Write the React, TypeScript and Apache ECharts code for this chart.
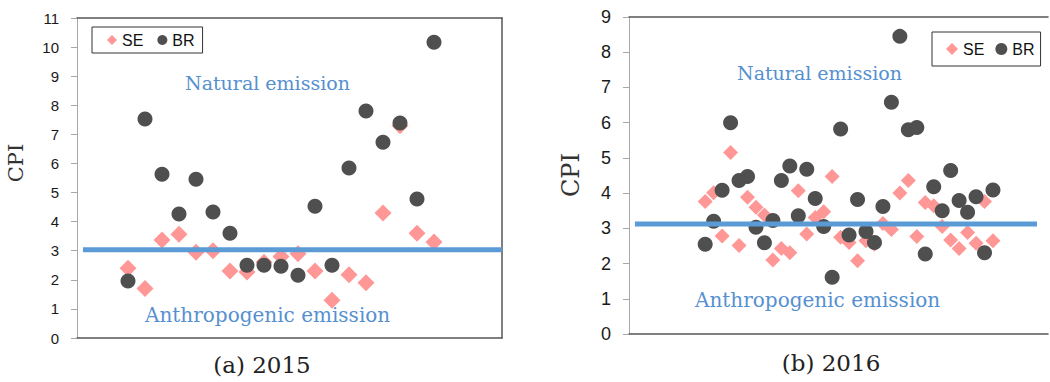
import React, { useEffect, useRef } from "react";
import * as echarts from "echarts";

// ---- 2015 ----
const samples2015 = [1, 2, 3, 4, 5, 6, 7, 8, 9, 10, 11, 12, 13, 14, 15, 16, 17, 18, 19];
const se2015 = [2.4, 1.7, 3.37, 3.57, 2.95, 3.0, 2.3, 2.27, 2.6, 2.8, 2.9, 2.3, 1.3, 2.17, 1.9, 4.3, 7.3, 3.6, 3.3];
const br2015 = [1.96, 7.53, 5.63, 4.26, 5.46, 4.33, 3.6, 2.5, 2.5, 2.47, 2.16, 4.53, 2.5, 5.84, 7.8, 6.73, 7.39, 4.78, 10.17];
const threshold2015 = 3.03;
const lineSpan2015 = [-1.65, 23];

// ---- 2016 ----
const samples2016 = [
  1, 2, 3, 4, 5, 6, 7, 8, 9, 10, 11, 12, 13, 14, 15, 16, 17, 18, 19, 20,
  21, 22, 23, 24, 25, 26, 27, 28, 29, 30, 31, 32, 33, 34, 35,
];
const se2016 = [
  3.76, 4.01, 2.78, 5.15, 2.51, 3.88, 3.6, 3.38, 2.1, 2.43, 2.31, 4.07, 2.84, 3.31, 3.47, 4.47, 2.75, 2.6,
  2.08, 2.65, 2.55, 3.14, 2.97, 4.0, 4.36, 2.77, 3.73, 3.64, 3.05, 2.67, 2.43, 2.88, 2.58, 3.76, 2.65,
];
const br2016 = [
  2.55, 3.2, 4.08, 6.0, 4.36, 4.47, 3.03, 2.59, 3.22, 4.36, 4.77, 3.36, 4.68, 3.85, 3.05, 1.61, 5.82, 2.81,
  3.82, 2.91, 2.6, 3.62, 6.58, 8.45, 5.8, 5.86, 2.27, 4.18, 3.5, 4.64, 3.79, 3.46, 3.9, 2.31, 4.09,
];
const threshold2016 = 3.12;
const lineSpan2016 = [-7.3, 40.2];

const legendNames = ["SE", "BR"];
const yTicks2015 = { min: 0, max: 11, interval: 1 };
const yTicks2016 = { min: 0, max: 9, interval: 1 };

const PINK = "#FF9797";
const DARK = "#4F4F4F";
const BLUE = "#5B9BD5";
const BLUE_TEXT = "#5590D0";
const FRAME = "#555";
const AXIS_GRAY = "#A8A8A8";
const SERIF = "'DejaVu Serif', serif";
const SANS = "'Liberation Sans', sans-serif";

function frameX(gridIndex: number, min: number, max: number, position: "top" | "bottom") {
  return {
    gridIndex,
    type: "value",
    min,
    max,
    position,
    axisLine: { show: true, onZero: false, lineStyle: { color: FRAME, width: 1.5 } },
    axisTick: { show: false },
    axisLabel: { show: false },
    splitLine: { show: false },
  };
}

function mainY(gridIndex: number, t: { min: number; max: number; interval: number }, fontSize: number) {
  return {
    gridIndex,
    type: "value",
    min: t.min,
    max: t.max,
    interval: t.interval,
    position: "left",
    axisLine: { show: true, onZero: false, lineStyle: { color: AXIS_GRAY, width: 1 } },
    axisTick: { show: true, inside: false, length: 6, lineStyle: { color: AXIS_GRAY } },
    axisLabel: { show: true, fontSize, color: "#1a1a1a", fontFamily: SANS, margin: 18 },
    splitLine: { show: false },
  };
}

export default function App() {
  const ref = useRef<HTMLDivElement>(null);

  useEffect(() => {
    if (!ref.current) return;
    const chart = echarts.init(ref.current, null, { renderer: "svg" });

    const option = {
      animation: false,
      backgroundColor: "#fff",
      grid: [
        { left: 77, top: 18, width: 425, height: 320 },
        { left: 629, top: 17, width: 419, height: 317 },
      ],
      xAxis: [
        frameX(0, -2, 23, "bottom"),
        frameX(0, -2, 23, "top"),
        frameX(1, -8, 41.5, "bottom"),
        frameX(1, -8, 41.5, "top"),
      ],
      yAxis: [
        mainY(0, yTicks2015, 15),
        {
          gridIndex: 0,
          type: "value",
          min: yTicks2015.min,
          max: yTicks2015.max,
          position: "right",
          axisLine: { show: true, onZero: false, lineStyle: { color: FRAME, width: 1.5 } },
          axisTick: { show: false },
          axisLabel: { show: false },
          splitLine: { show: false },
        },
        mainY(1, yTicks2016, 18),
      ],
      legend: [
        {
          data: legendNames,
          left: 92,
          top: 27,
          orient: "horizontal",
          padding: [5, 8, 5, 15],
          itemGap: 14,
          itemWidth: 10,
          itemHeight: 10,
          borderColor: "#333",
          borderWidth: 1,
          backgroundColor: "#fff",
          textStyle: { fontSize: 16, fontFamily: SANS, color: "#111" },
        },
        {
          data: legendNames,
          left: 932,
          top: 32,
          width: 118,
          orient: "horizontal",
          padding: [9, 6, 9, 14],
          itemGap: 11,
          itemWidth: 12,
          itemHeight: 12,
          borderColor: "#333",
          borderWidth: 1,
          backgroundColor: "#fff",
          textStyle: { fontSize: 16, fontFamily: SANS, color: "#111" },
        },
      ],
      series: [
        {
          name: "SE",
          type: "scatter",
          xAxisIndex: 0,
          yAxisIndex: 0,
          symbol: "diamond",
          symbolSize: 17,
          itemStyle: { color: PINK, opacity: 1 },
          data: samples2015.map((x, i) => [x, se2015[i]]),
          z: 2,
        },
        {
          name: "BR",
          type: "scatter",
          xAxisIndex: 0,
          yAxisIndex: 0,
          symbol: "circle",
          symbolSize: 15,
          itemStyle: { color: DARK, opacity: 1 },
          data: samples2015.map((x, i) => [x, br2015[i]]),
          z: 3,
        },
        {
          name: "threshold2015",
          type: "line",
          xAxisIndex: 0,
          yAxisIndex: 0,
          symbol: "none",
          silent: true,
          lineStyle: { color: BLUE, width: 5 },
          data: lineSpan2015.map((x) => [x, threshold2015]),
          z: 4,
        },
        {
          name: "SE",
          type: "scatter",
          xAxisIndex: 2,
          yAxisIndex: 2,
          symbol: "diamond",
          symbolSize: 15,
          itemStyle: { color: PINK, opacity: 1 },
          data: samples2016.map((x, i) => [x, se2016[i]]),
          z: 2,
        },
        {
          name: "BR",
          type: "scatter",
          xAxisIndex: 2,
          yAxisIndex: 2,
          symbol: "circle",
          symbolSize: 15,
          itemStyle: { color: DARK, opacity: 1 },
          data: samples2016.map((x, i) => [x, br2016[i]]),
          z: 3,
        },
        {
          name: "threshold2016",
          type: "line",
          xAxisIndex: 2,
          yAxisIndex: 2,
          symbol: "none",
          silent: true,
          lineStyle: { color: BLUE, width: 5 },
          data: lineSpan2016.map((x) => [x, threshold2016]),
          z: 4,
        },
      ],
      graphic: [
        {
          type: "text",
          x: 16,
          y: 163,
          rotation: Math.PI / 2,
          style: { text: "CPI", fontSize: 21, fontFamily: SERIF, fill: "#333", align: "center", verticalAlign: "middle" },
        },
        {
          type: "text",
          x: 571,
          y: 175,
          rotation: Math.PI / 2,
          style: { text: "CPI", fontSize: 24, fontFamily: SERIF, fill: "#333", align: "center", verticalAlign: "middle" },
        },
        {
          type: "text",
          x: 185,
          y: 83,
          style: { text: "Natural emission", fontSize: 19, fontFamily: SERIF, fill: BLUE_TEXT, align: "left", verticalAlign: "middle" },
        },
        {
          type: "text",
          x: 145,
          y: 315,
          style: { text: "Anthropogenic emission", fontSize: 20, fontFamily: SERIF, fill: BLUE_TEXT, align: "left", verticalAlign: "middle" },
        },
        {
          type: "text",
          x: 737,
          y: 73,
          style: { text: "Natural emission", fontSize: 19, fontFamily: SERIF, fill: BLUE_TEXT, align: "left", verticalAlign: "middle" },
        },
        {
          type: "text",
          x: 695,
          y: 300,
          style: { text: "Anthropogenic emission", fontSize: 20, fontFamily: SERIF, fill: BLUE_TEXT, align: "left", verticalAlign: "middle" },
        },
        {
          type: "text",
          x: 262,
          y: 365,
          style: { text: "(a) 2015", fontSize: 23, fontFamily: SERIF, fill: "#222", align: "center", verticalAlign: "middle" },
        },
        {
          type: "text",
          x: 831,
          y: 363,
          style: { text: "(b) 2016", fontSize: 23, fontFamily: SERIF, fill: "#222", align: "center", verticalAlign: "middle" },
        },
      ],
    };

    chart.setOption(option as any);
    return () => chart.dispose();
  }, []);

  return (
    <div
      ref={ref}
      style={{ position: "absolute", left: 0, top: 0, width: 1050, height: 382 }}
    />
  );
}
